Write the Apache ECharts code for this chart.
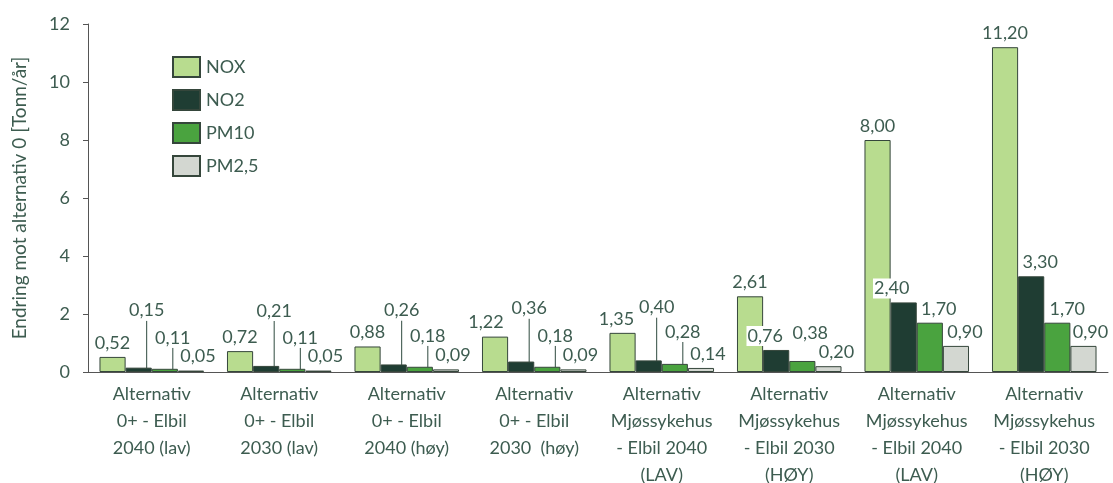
<!DOCTYPE html>
<html>
<head>
<meta charset="utf-8">
<script src="https://cdn.jsdelivr.net/npm/echarts@6/dist/echarts.min.js"></script>
<style>
  html, body { margin: 0; padding: 0; background: #fff; }
  #chart { width: 1113px; height: 483px; }
</style>
</head>
<body>
<div id="chart"></div>
<script>
// kategorier (x-akse)
var categories = [
  'Alternativ\n0+ - Elbil\n2040 (lav)',
  'Alternativ\n0+ - Elbil\n2030 (lav)',
  'Alternativ\n0+ - Elbil\n2040 (høy)',
  'Alternativ\n0+ - Elbil\n2030  (høy)',
  'Alternativ\nMjøssykehus\n- Elbil 2040\n(LAV)',
  'Alternativ\nMjøssykehus\n- Elbil 2030\n(HØY)',
  'Alternativ\nMjøssykehus\n- Elbil 2040\n(LAV)',
  'Alternativ\nMjøssykehus\n- Elbil 2030\n(HØY)'
];

var noxValues  = [0.52, 0.72, 0.88, 1.22, 1.35, 2.61, 8.00, 11.20];
var no2Values  = [0.15, 0.21, 0.26, 0.36, 0.40, 0.76, 2.40, 3.30];
var pm10Values = [0.11, 0.11, 0.18, 0.18, 0.28, 0.38, 1.70, 1.70];
var pm25Values = [0.05, 0.05, 0.09, 0.09, 0.14, 0.20, 0.90, 0.90];

// flytting av etiketter (px) slik som i originalen
var noxLabelDx     = [0, 0, 0, -9, -6, 0, 0, 0];
var no2LabelDy     = [-43, -41, -40, -39, -39, 0, 0, 0];
var no2LabelDx     = [8, 8, 8, 8, 8, -11, -12, 9];
var pm10LabelDy    = [-17, -17, -17, -17, -18, -14, 0, 0];
var pm10LabelDx    = [8, 8, 8, 8, 8, 8, 9, 10];
var pm10LineShow   = [true, true, true, true, true, false, false, false];
var pm25LabelDx    = [7, 7, 7, 7, 7, 8, 9, 7];

var textColor = '#3d5c50';
var fontFamily = 'Lato';

function fmt(p) {
  return p.value.toFixed(2).replace('.', ',');
}

function makeSeries(name, values, color, dxs, dys, lineShow) {
  var data = values.map(function (v, i) {
    var item = { value: v };
    if (dys && dys[i] !== 0) {
      item.labelLine = { show: lineShow ? lineShow[i] : true };
    }
    return item;
  });
  return {
    name: name,
    type: 'bar',
    data: data,
    barGap: '0%',
    barCategoryGap: '18%',
    itemStyle: { color: color, borderColor: '#35463b', borderWidth: 1 },
    label: {
      show: true,
      position: 'top',
      distance: 4,
      formatter: fmt,
      color: textColor,
      fontSize: 18,
      fontFamily: fontFamily,
      backgroundColor: '#fff',
      padding: [1, 1]
    },
    labelLine: {
      show: false,
      lineStyle: { color: '#2f4a3f', width: 1 }
    },
    labelLayout: function (params) {
      var i = params.dataIndex;
      return { dx: dxs ? dxs[i] : 0, dy: dys ? dys[i] : 0 };
    }
  };
}

var chart = echarts.init(document.getElementById('chart'));
chart.setOption({
  backgroundColor: '#fff',
  animation: false,
  textStyle: { fontFamily: fontFamily },
  grid: { left: 88, right: 5, top: 24, bottom: 111, containLabel: false, outerBoundsMode: 'none' },
  legend: {
    orient: 'vertical',
    left: 172,
    top: 56,
    padding: 0,
    icon: 'rect',
    itemWidth: 27,
    itemHeight: 20,
    itemGap: 11,
    textStyle: { color: textColor, fontSize: 18, lineHeight: 20, fontFamily: fontFamily, padding: [0, 0, 0, 1] },
    data: ['NOX', 'NO2', 'PM10', 'PM2,5']
  },
  xAxis: {
    type: 'category',
    data: categories,
    axisLine: { lineStyle: { color: '#555', width: 1 } },
    axisTick: { show: false },
    axisLabel: {
      interval: 0,
      color: textColor,
      fontSize: 18,
      lineHeight: 27,
      margin: 9,
      fontFamily: fontFamily
    }
  },
  yAxis: {
    type: 'value',
    min: 0,
    max: 12,
    interval: 2,
    name: 'Endring mot alternativ 0 [Tonn/år]',
    nameLocation: 'middle',
    nameGap: 59,
    nameTextStyle: { color: textColor, fontSize: 19, fontFamily: fontFamily },
    axisLine: { show: true, lineStyle: { color: '#555', width: 1 } },
    axisTick: { show: true, length: 5, lineStyle: { color: '#555' } },
    axisLabel: { color: textColor, fontSize: 18, margin: 18, fontFamily: fontFamily },
    splitLine: { show: false }
  },
  series: [
    makeSeries('NOX', noxValues, '#b8dc8f', noxLabelDx),
    makeSeries('NO2', no2Values, '#1f3d33', no2LabelDx, no2LabelDy),
    makeSeries('PM10', pm10Values, '#4aa33f', pm10LabelDx, pm10LabelDy, pm10LineShow),
    makeSeries('PM2,5', pm25Values, '#d3d7d1', pm25LabelDx)
  ]
});
</script>
</body>
</html>
